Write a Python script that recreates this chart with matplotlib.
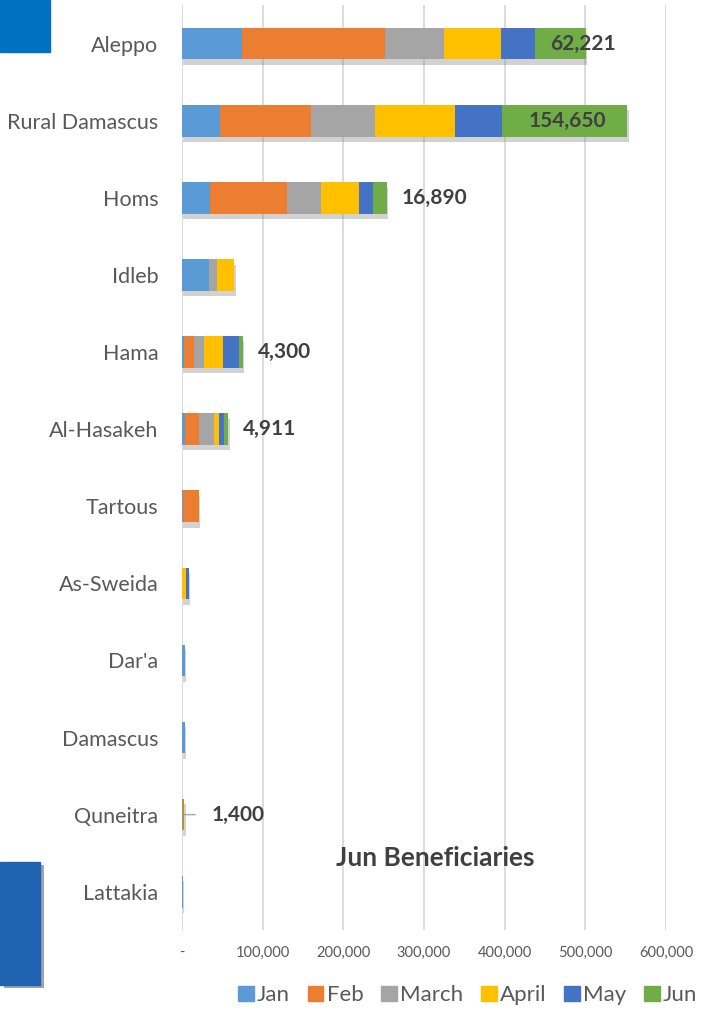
import numpy as np
import matplotlib
matplotlib.use("Agg")
import matplotlib.pyplot as plt
import matplotlib.patheffects as pe
from matplotlib.patches import Rectangle, Patch

plt.rcParams['font.family'] = ['Lato', 'DejaVu Sans']

regions = ["Aleppo", "Rural Damascus", "Homs", "Idleb", "Hama", "Al-Hasakeh",
           "Tartous", "As-Sweida", "Dar'a", "Damascus", "Quneitra", "Lattakia"]
months = ["Jan", "Feb", "March", "April", "May", "Jun"]

jan   = [75000, 47000, 35000, 34000, 3300, 3700, 1200, 0, 3700, 3700, 0, 1000]
feb   = [177000, 113000, 95000, 0, 12000, 17800, 20000, 0, 0, 0, 1500, 0]
march = [73000, 79000, 42000, 10000, 12400, 18600, 0, 0, 0, 0, 0, 0]
april = [70000, 100000, 48000, 21000, 23600, 6200, 0, 5000, 0, 0, 0, 0]
may   = [43000, 58000, 17000, 0, 20000, 6200, 0, 4000, 0, 0, 0, 0]
jun   = [62221, 154650, 16890, 0, 4300, 4911, 0, 0, 0, 0, 1400, 0]

# which bars carry a Jun label
labelled = {"Aleppo": 62221, "Rural Damascus": 154650, "Homs": 16890,
            "Hama": 4300, "Al-Hasakeh": 4911, "Quneitra": 1400}

colors = ["#5B9BD5", "#ED7D31", "#A5A5A5", "#FFC000", "#4472C4", "#70AD47"]
series = [jan, feb, march, april, may, jun]

fig = plt.figure(figsize=(7.02, 10.09), dpi=100)
ax = fig.add_axes([0.259, 0.078, 0.69, 0.917])

y = np.arange(len(regions))
left = np.zeros(len(regions))
shadow = [pe.SimplePatchShadow(offset=(1, -4), shadow_rgbFace="#808080", alpha=0.35), pe.Normal()]
for vals, c, m in zip(series, colors, months):
    bars = ax.barh(y, vals, left=left, height=0.41, color=c, label=m, zorder=3)
    for b in bars:
        b.set_path_effects(shadow)
    left = left + np.array(vals)

ax.set_ylim(11.5, -0.5)
ax.set_xlim(0, 600000)
ticks = np.arange(0, 600001, 100000)
ax.set_xticks(ticks)
ax.set_xticklabels(["-"] + [f"{t:,}" for t in ticks[1:]], color="#595959", fontsize=10.5)
ax.set_yticks(y)
ax.set_yticklabels(regions, fontsize=15.5, color="#595959")
ax.tick_params(length=0, pad=17)
ax.tick_params(axis="x", pad=11)
ax.grid(axis="x", color="#D9D9D9", linewidth=1.3, zorder=0)
for s in ax.spines.values():
    s.set_visible(False)

totals = left
for i, r in enumerate(regions):
    if r not in labelled:
        continue
    txt = f"{labelled[r]:,}"
    kw = dict(fontsize=15, fontweight="bold", color="#404040", va="center", zorder=5)
    if r == "Aleppo":
        ax.annotate(txt, (totals[i], i), xytext=(-2, 0), textcoords="offset points", ha="center", **kw)
    elif r == "Rural Damascus":
        ax.annotate(txt, (totals[i] - jun[i] / 2, i), xytext=(2, 0), textcoords="offset points", ha="center", **kw)
    elif r == "Quneitra":
        ax.annotate(txt, (totals[i], i), xytext=(20, 0), textcoords="offset points", ha="left",
                    arrowprops=dict(arrowstyle="-", color="#A6A6A6", lw=1, shrinkA=10, shrinkB=0), **kw)
    else:
        ax.annotate(txt, (totals[i], i), xytext=(11, 0), textcoords="offset points", ha="left", **kw)

fig.text(0.62, 0.150, "Jun Beneficiaries", fontsize=19, fontweight="bold", color="#404040",
         ha="center", va="center")

handles = [Patch(color=c) for c in colors]
fig.legend(handles, months, loc="lower right", bbox_to_anchor=(1.022, -0.016), ncol=6,
           frameon=False, fontsize=16, handlelength=0.7, handleheight=0.7,
           handletextpad=0.15, columnspacing=0.8, labelcolor="#595959")

# cropped slide fragments at the left edge
fig.patches.append(Rectangle((0, 1 - 52 / 1009), 50 / 702, 52 / 1009, transform=fig.transFigure,
                             color="#0070C0", zorder=1))
fig.patches.append(Rectangle((0, 1 - 985 / 1009), 40 / 702, 123 / 1009, transform=fig.transFigure,
                             color="#1F63B0", zorder=1,
                             path_effects=[pe.SimplePatchShadow(offset=(3, -2), alpha=0.4), pe.Normal()]))

fig.savefig("out.png", dpi=100)
